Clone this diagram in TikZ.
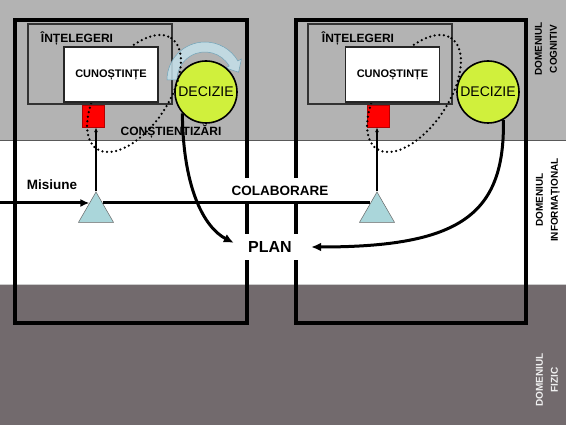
\documentclass[tikz,border=0pt]{standalone}
\usepackage{fontspec}
\setmainfont{Liberation Sans}
\usepackage{tikz}
\usetikzlibrary{shapes.geometric,arrows.meta,calc}
\definecolor{cogngray}{RGB}{179,179,179}
\definecolor{physgray}{RGB}{114,106,109}
\definecolor{decgreen}{RGB}{208,240,60}
\definecolor{triblue}{RGB}{170,214,218}
\definecolor{arcblue}{RGB}{196,224,234}

\begin{document}
\begin{tikzpicture}[x=1pt, y=-1pt,
    every node/.style={align=center, inner sep=0pt},
    bigFrame/.style={draw=black, line width=3.5pt},
    underBox/.style={rectangle, draw=black!80, line width=2pt, fill=cogngray, minimum width=144pt, minimum height=80pt},
    knowBox/.style={rectangle, draw=black!85, line width=1.5pt, fill=white, minimum width=94pt, minimum height=55pt, font=\bfseries\fontsize{11}{13}\selectfont},
    awareBox/.style={rectangle, draw=red!70!black, line width=0.4pt, fill=red, minimum size=22pt},
    decCircle/.style={circle, draw=black, line width=1.6pt, fill=decgreen, minimum size=62pt, font=\fontsize{14}{16}\selectfont},
    netTri/.style={regular polygon, regular polygon sides=3, draw=gray!80!black, line width=0.5pt, fill=triblue, minimum size=40.4pt},
    boxLabel/.style={font=\bfseries\fontsize{12}{14}\selectfont},
    gapLabel/.style={fill=white, minimum height=26pt, font=\bfseries\fontsize{13.5}{16}\selectfont},
    domLabel/.style={rotate=90, font=\bfseries\fontsize{10}{15}\selectfont},
    dotRing/.style={line width=2.5pt, line cap=round, dash pattern=on 0pt off 4.6pt},
    linkLine/.style={draw, line width=1.2pt, -{Latex[length=5pt,width=4pt]}},
    flowLine/.style={draw, line width=3pt, -{Latex[length=10pt,width=9pt]}}
]
    \useasboundingbox (0,0) rectangle (566,425);

    % domain bands
    \fill [cogngray] (0,0) rectangle (566,140);
    \fill [white] (0,140) rectangle (566,284);
    \fill [physgray] (0,284) rectangle (566,425);
    \draw [gray!70!black, line width=0.6pt] (0,140) -- (566,140);
    \draw [gray!40, line width=0.6pt] (0,284) -- (566,284);

    \draw [bigFrame] (15,20) rectangle (247,323);
    \draw [bigFrame] (296,20) rectangle (526,323);

    \node [underBox] (und1) at (100,64) {};
    \node [underBox] (und2) at (380,64) {};

    \node [awareBox] (aw1) at (93,116) {};
    \node [awareBox] (aw2) at (378,116) {};

    \path [fill=arcblue, fill opacity=0.85, draw=gray!60!cyan, line width=0.5pt]
        (167,80) arc[start angle=180, end angle=30, radius=38pt]
        -- (241.4,59) -- (238.6,72.2) -- (225.8,68) -- (229.2,66)
        arc[start angle=30, end angle=180, radius=28pt] -- cycle;

    \node [decCircle] (dec1) at (206,92) {DECIZIE};
    \node [decCircle] (dec2) at (488,92) {DECIZIE};

    % tilted awareness rings
    \foreach \cx in {134,414}
        \draw [dotRing] plot [domain=0:360, samples=120, variable=\t]
            ({\cx + 66.7*cos(\t)*cos(56) + 34.3*sin(\t)*sin(56)},
             {93.5 - 66.7*cos(\t)*sin(56) + 34.3*sin(\t)*cos(56)});

    \node [knowBox] (kn1) at (111,74.5) {CUNOȘTINȚE};
    \node [knowBox] (kn2) at (392.5,74.5) {CUNOȘTINȚE};

    \node [boxLabel] (in1) at (77,38) {ÎNȚELEGERI};
    \node [boxLabel] (in2) at (358,38) {ÎNȚELEGERI};
    \node [boxLabel] (cs1) at (171,132) {CONȘTIENTIZĂRI};

    \node [netTri] (tri1) at (96,212.2) {};
    \node [netTri] (tri2) at (377,212.2) {};

    \path [linkLine] (tri1.corner 1) -- (tri1.corner 1 |- aw1.south);
    \path [linkLine] (tri2.corner 1) -- (tri2.corner 1 |- aw2.south);

    \node [font=\bfseries\fontsize{13.5}{16}\selectfont] (mis) at (52,185) {Misiune};
    \coordinate (mEnd) at ($(tri1.corner 1)!0.37!(tri1.corner 2)$);
    \coordinate (mStart) at (mEnd -| 0,0);
    \path [draw, line width=3pt, -{Latex[length=9pt,width=8pt]}] (mStart) -- (mEnd);

    \node [gapLabel] (colab) at (280,191) {COLABORARE};
    \node [gapLabel, minimum width=56pt, font=\bfseries\fontsize{16}{18}\selectfont] (plan) at (270,247) {PLAN};

    \coordinate (cA) at ($(tri1.corner 1)!0.37!(tri1.corner 3)$);
    \coordinate (cB) at ($(tri2.corner 1)!0.37!(tri2.corner 2)$);
    \path [draw, line width=3pt] (cA) -- (cB);

    \path [flowLine, shorten >=9pt] (dec1.222) .. controls (183,190) and (205,228) .. (plan.west);
    \path [flowLine, shorten >=13pt] (dec2.299) .. controls (505,215) and (460,247) .. (plan.east);

    \node [domLabel] (cogn) at (546,49) {DOMENIUL\\COGNITIV};
    \node [domLabel] (info) at (548,200) {DOMENIUL\\INFORMAȚIONAL};
    \node [domLabel, text=white!88!gray] (phys) at (547,380) {DOMENIUL\\FIZIC};
\end{tikzpicture}
\end{document}
